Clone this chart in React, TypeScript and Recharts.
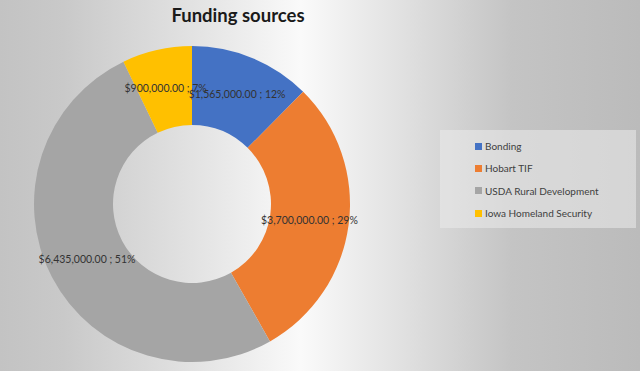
import { PieChart, Pie, Cell, Legend } from 'recharts'

const sources = ['Bonding', 'Hobart TIF', 'USDA Rural Development', 'Iowa Homeland Security']
const amounts = [1565000, 3700000, 6435000, 900000]
const colors = ['#4472C4', '#ED7D31', '#A5A5A5', '#FFC000']

const data = sources.map((name, i) => ({ name, value: amounts[i] }))
const total = amounts.reduce((a, b) => a + b, 0)

const RADIAN = Math.PI / 180

function fmtMoney(v: number) {
  return '$' + v.toLocaleString('en-US', { minimumFractionDigits: 2, maximumFractionDigits: 2 })
}

// Excel puts the data labels in the middle of the ring
function renderLabel(props: any) {
  const { cx, cy, midAngle, innerRadius, outerRadius, value } = props
  const r = (innerRadius + outerRadius) / 2
  const x = cx + r * Math.cos(-midAngle * RADIAN)
  const y = cy + r * Math.sin(-midAngle * RADIAN)
  const pct = Math.round((value / total) * 100)
  return (
    <text
      x={x}
      y={y}
      textAnchor="middle"
      dominantBaseline="central"
      fill="#333333"
      fontSize={10.5}
      fontFamily="Lato, sans-serif"
    >
      {`${fmtMoney(value)} ; ${pct}%`}
    </text>
  )
}

function LegendBox() {
  return (
    <div
      style={{
        width: 196,
        height: 98,
        background: 'rgba(235,235,235,0.55)',
        boxSizing: 'border-box',
        paddingLeft: 35,
        paddingTop: 5,
        fontFamily: 'Lato, sans-serif',
        fontSize: 10,
        color: '#404040',
      }}
    >
      {sources.map((s, i) => (
        <div key={s} style={{ display: 'flex', alignItems: 'center', height: 22.3 }}>
          <span style={{ width: 7, height: 7, background: colors[i], marginRight: 3, display: 'inline-block' }} />
          {s}
        </div>
      ))}
    </div>
  )
}

export default function App() {
  return (
    <div
      style={{
        position: 'relative',
        width: 640,
        height: 371,
        background:
          'linear-gradient(to right, #c3c3c3 0%, #c9c9c9 10%, #e6e6e6 33%, #fafafa 47%, #e2e2e2 62%, #c4c4c4 80%, #bbbbbb 100%)',
        overflow: 'hidden',
      }}
    >
      <style>{'body{margin:0}'}</style>
      <div
        style={{
          position: 'absolute',
          left: 0,
          width: 476,
          top: 4,
          textAlign: 'center',
          fontFamily: 'Lato, sans-serif',
          fontWeight: 700,
          fontSize: 18.5,
          color: '#1a1a1a',
        }}
      >
        Funding sources
      </div>
      <PieChart
        width={640}
        height={371}
        margin={{ top: 0, right: 0, bottom: 0, left: 0 }}
        style={{ position: 'absolute', left: 0, top: 0 }}
      >
        <Pie
          data={data}
          dataKey="value"
          nameKey="name"
          cx={192}
          cy={204}
          innerRadius={79}
          outerRadius={158}
          startAngle={90}
          endAngle={-270}
          stroke="none"
          label={renderLabel}
          labelLine={false}
          isAnimationActive={false}
        >
          {data.map((d, i) => (
            <Cell key={d.name} fill={colors[i]} />
          ))}
        </Pie>
        <Legend
          content={() => <LegendBox />}
          wrapperStyle={{ position: 'absolute', left: 440, top: 130, width: 196 }}
        />
      </PieChart>
    </div>
  )
}
